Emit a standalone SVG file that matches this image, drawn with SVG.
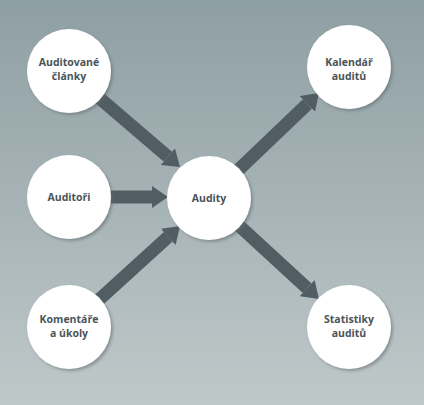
<svg xmlns="http://www.w3.org/2000/svg" width="424" height="405" viewBox="0 0 424 405">
<defs>
<linearGradient id="bg" x1="0" y1="0" x2="0" y2="1">
<stop offset="0" stop-color="#8e9fa3"/>
<stop offset="1" stop-color="#bfc8c9"/>
</linearGradient>
<filter id="sh" x="-20%" y="-20%" width="150%" height="150%">
<feDropShadow dx="2" dy="2" stdDeviation="1.5" flood-color="#5f6b6e" flood-opacity="0.55"/>
</filter>
<marker id="ah" markerUnits="userSpaceOnUse" markerWidth="17" markerHeight="23" refX="0" refY="11" orient="auto" viewBox="0 0 17 22">
<path d="M0,0 L16,11 L0,22 z" fill="#505e63"/>
</marker>
<style>
.conn line{stroke:#505e63;stroke-width:13;stroke-linecap:butt;marker-end:url(#ah)}
.node circle{fill:#ffffff;filter:url(#sh)}
.node text{font-family:"Open Sans","Noto Sans","DejaVu Sans",sans-serif;font-weight:bold;font-size:10.5px;fill:#4a5458;text-anchor:middle}
</style>
</defs>
<rect width="424" height="405" fill="url(#bg)"/>
<g id="connectors" class="conn">
<line x1="69" y1="72" x2="167.8" y2="156.6"/>
<line x1="69" y1="197" x2="152" y2="197"/>
<line x1="69" y1="327" x2="168.2" y2="236.8"/>
<line x1="209" y1="198" x2="307.4" y2="104"/>
<line x1="209" y1="198" x2="307.2" y2="288.2"/>
</g>
<g id="auditovane" class="node"><circle cx="69" cy="71" r="42"/><text x="69" y="66">Auditované</text><text x="69" y="80">články</text></g>
<g id="auditori" class="node"><circle cx="69" cy="197" r="42"/><text x="69" y="201">Auditoři</text></g>
<g id="komentare" class="node"><circle cx="69" cy="327" r="42"/><text x="69" y="323">Komentáře</text><text x="69" y="337">a úkoly</text></g>
<g id="audity" class="node"><circle cx="209" cy="198" r="42"/><text x="209" y="202">Audity</text></g>
<g id="kalendar" class="node"><circle cx="349" cy="67" r="42"/><text x="349" y="66">Kalendář</text><text x="349" y="80">auditů</text></g>
<g id="statistiky" class="node"><circle cx="349" cy="327" r="42"/><text x="349" y="323">Statistiky</text><text x="349" y="337">auditů</text></g>
</svg>
